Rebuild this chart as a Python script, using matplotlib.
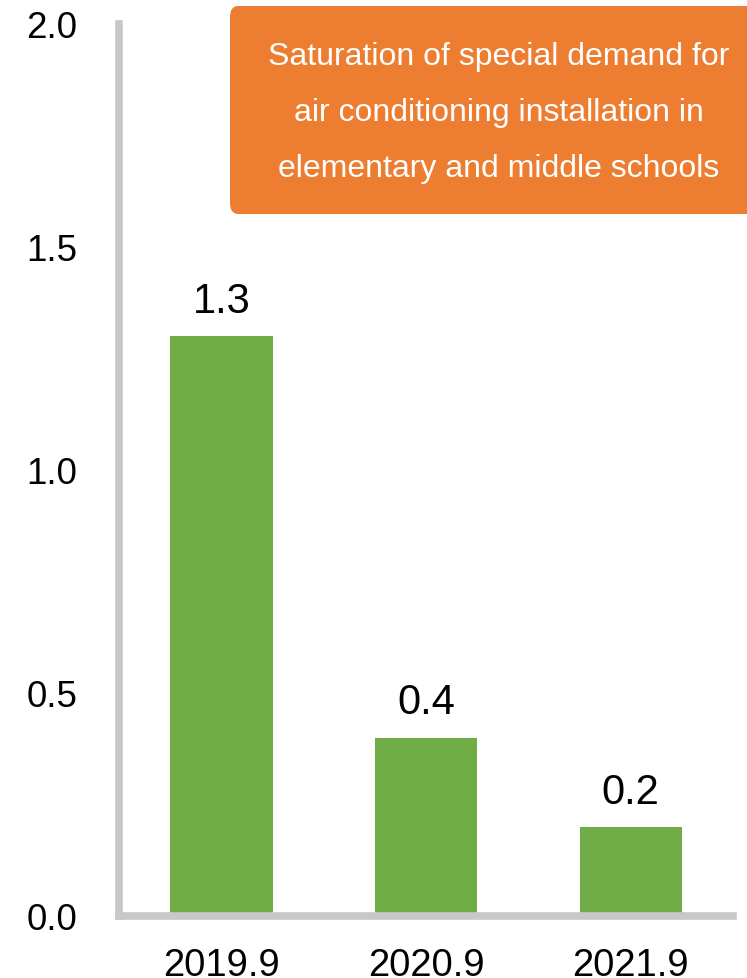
import matplotlib
matplotlib.use("Agg")
import matplotlib.pyplot as plt
from matplotlib.patches import FancyBboxPatch

categories = ["2019.9", "2020.9", "2021.9"]
values = [1.3, 0.4, 0.2]
yticks = [0.0, 0.5, 1.0, 1.5, 2.0]
box_text = "Saturation of special demand for\nair conditioning installation in\nelementary and middle schools"

plt.rcParams['font.family'] = ['Liberation Sans', 'DejaVu Sans']

W, H = 747, 979
fig = plt.figure(figsize=(W / 100, H / 100), dpi=100)
ax = fig.add_axes([119 / W, (H - 917) / H, (733 - 119) / W, (917 - 25) / H])

x = list(range(len(categories)))
bars = ax.bar(x, values, width=0.5, color="#70AD47", zorder=1)
for xi, v in zip(x, values):
    ax.annotate(f"{v:.1f}", (xi, v), xytext=(0, 11), textcoords="offset points",
                ha="center", va="bottom", fontsize=30, color="black")

ax.set_xlim(-0.5, 2.5)
ax.set_ylim(0, 2.0)
ax.set_yticks(yticks)
ax.set_yticklabels([f"{t:.1f}" for t in yticks], fontsize=26.5)
ax.set_xticks(x)
ax.set_xticklabels(categories, fontsize=27.5)
ax.tick_params(axis="y", length=0, pad=30)
ax.tick_params(axis="x", length=0, pad=22)

for s in ["top", "right"]:
    ax.spines[s].set_visible(False)
for s in ["left", "bottom"]:
    ax.spines[s].set_color("#C8C8C8")
    ax.spines[s].set_linewidth(5.5)
    ax.spines[s].set_capstyle("projecting")

# orange annotation box (figure pixel coordinates)
bx0, by0, bx1, by1 = 230, 7, 768, 215
box = FancyBboxPatch((bx0 / W, 1 - by1 / H), (bx1 - bx0) / W, (by1 - by0) / H,
                     boxstyle="round,pad=0,rounding_size=0.011",
                     transform=fig.transFigure, facecolor="#ED7D31",
                     edgecolor="none", zorder=5, clip_on=False)
fig.patches.append(box)
fig.text(499 / W, 1 - 113 / H, box_text, ha="center", va="center",
         fontsize=23, color="white", linespacing=2.13, zorder=6)

fig.savefig("out.png", dpi=100)
